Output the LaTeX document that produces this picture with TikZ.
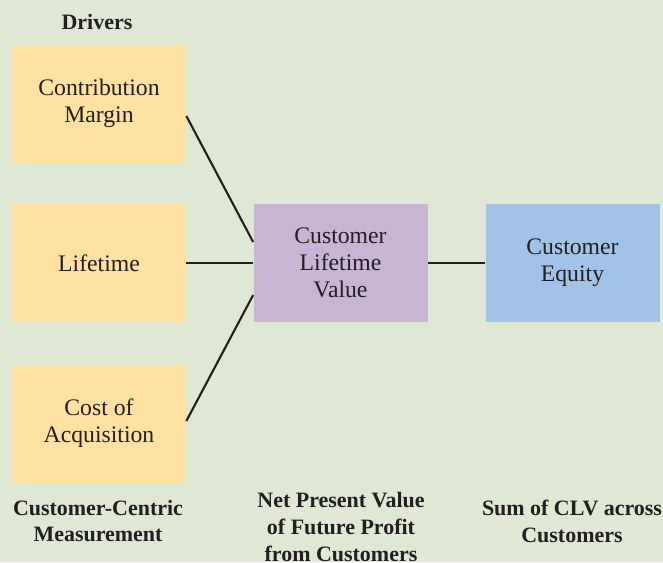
\documentclass[tikz,border=0pt]{standalone}
\usepackage{fontspec}
\setmainfont{Liberation Serif}
\usetikzlibrary{positioning}

\definecolor{bgGreen}{HTML}{DFE8D4}
\definecolor{driverYellow}{HTML}{FFE2A3}
\definecolor{clvPurple}{HTML}{C8B5D3}
\definecolor{equityBlue}{HTML}{A2C3E8}
\definecolor{inkDark}{HTML}{231F20}

\tikzset{
  box/.style={minimum width=174*0.02cm, minimum height=118*0.02cm, align=center,
    inner sep=0pt, text=inkDark, font=\fontsize{13.5}{15.5}\selectfont},
  caption/.style={align=center, text=inkDark, font=\bfseries\fontsize{12.5}{15.3}\selectfont},
  link/.style={draw=inkDark, line width=1.2pt}
}

\begin{document}
\begin{tikzpicture}[x=0.02cm, y=-0.02cm]
    % Background
    \fill[bgGreen] (0,0) rectangle (663,562);
    \useasboundingbox (0,0) rectangle (663,562);
    % Drivers
    \node[caption] (drivers) at (97,22) {Drivers};
    \node[box, fill=driverYellow] (margin) at (99,103.5) {Contribution\\Margin};
    \node[box, fill=driverYellow] (lifetime) at (99,263) {Lifetime};
    \node[box, fill=driverYellow] (acquisition) at (99,423.5) {Cost of\\Acquisition};
    % Value and equity
    \node[box, fill=clvPurple] (clv) at (340.5,263) {Customer\\Lifetime\\Value};
    \node[box, fill=equityBlue] (equity) at (572.5,263) {Customer\\Equity};
    % Links
    \draw[link] (margin.east |- 0,116) -- (clv.west |- 0,242);
    \draw[link] (lifetime) -- (clv);
    \draw[link] (acquisition.east |- 0,421) -- (clv.west |- 0,295);
    \draw[link] (clv) -- (equity);
    % Captions
    \node[caption] (measure) at (98,521) {Customer-Centric\\Measurement};
    \node[caption] (npv) at (341,527) {Net Present Value\\of Future Profit\\from Customers};
    \node[caption] (sum) at (572,521) {Sum of CLV across\\Customers};
\end{tikzpicture}
\end{document}
